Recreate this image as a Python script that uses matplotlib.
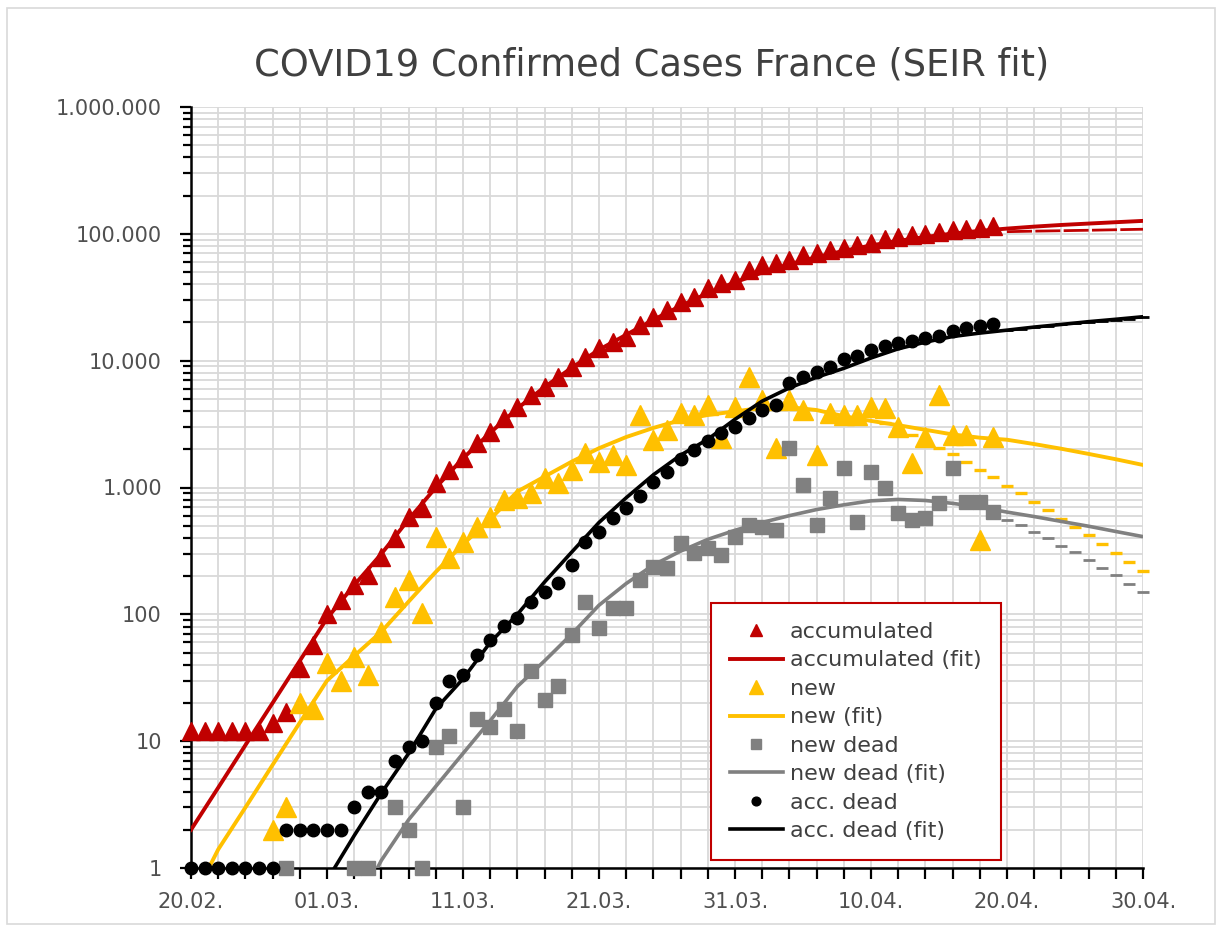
import numpy as np
import matplotlib
matplotlib.use("Agg")
from matplotlib import pyplot as plt
from matplotlib import ticker
from matplotlib.patches import Rectangle

# days counted from 20.02.2020
start = np.datetime64("2020-02-20")

# observed values, one per day from 20.02. to 19.04.
accumulated = [12, 12, 12, 12, 12, 12, 14, 17, 38, 57,
               100, 130, 170, 204, 285, 400, 585, 690, 1085, 1370,
               1700, 2240, 2740, 3530, 4300, 5370, 6200, 7400, 8900, 10700,
               12600, 14000, 15400, 19200, 22100, 25100, 29000, 31700, 37400, 40900,
               43300, 51900, 56400, 58700, 62000, 67600, 70500, 74200, 77800, 81300,
               84700, 91600, 94500, 97500, 99300, 103600, 106800, 109800, 111900, 114800]
new = [np.nan] * 6 + [2, 3, 20, 18,
       41, 30, 46, 33, 73, 138, 187, 102, 409, 278,
       374, 491, 589, 795, 826, 906, 1182, 1079, 1375, 1862,
       1600, 1804, 1504, 3730, 2370, 2840, 3845, 3730, 4480, 2445,
       4340, 7480, 4900, 2040, 4900, 4080, 1800, 3845, 3730, 3730,
       4340, 4200, 3020, 1552, 2513, 5360, 2594, 2594, 386, 2513]
new_dead = [np.nan] * 7 + [1, np.nan, np.nan,
            np.nan, np.nan, 1, 1, np.nan, 3, 2, 1, 9, 11,
            3, 15, 13, 18, 12, 36, 21, 27, 69, 126,
            78, 112, 112, 187, 237, 231, 363, 303, 331, 294,
            409, 506, 491, 462, 2037, 1047, 506, 822, 1417, 537,
            1333, 986, 626, 554, 572, 750, 1417, 773, 773, 645]
acc_dead = [1, 1, 1, 1, 1, 1, 1, 2, 2, 2,
            2, 2, 3, 4, 4, 7, 9, 10, 20, 30,
            33, 48, 63, 81, 93, 126, 151, 176, 245, 374,
            449, 572, 686, 860, 1111, 1333, 1670, 1977, 2330, 2672,
            3020, 3515, 4080, 4475, 6630, 7480, 8100, 8960, 10300, 10900,
            12140, 13120, 13700, 14380, 15000, 15740, 17140, 18200, 18760, 19450]

# SEIR fit, read every second day from 20.02. to 30.04.
acc_fit = [2, 4.3, 9.3, 20, 43, 93, 170, 300, 560, 1000,
           1700, 2700, 4200, 6200, 8800, 12200, 16000, 21000, 27000, 34000,
           41500, 49500, 57500, 65500, 73500, 81000, 88000, 94500, 100500, 105500,
           110000, 114000, 117500, 120500, 123500, 126500]
new_fit = [0.53, 1.4, 3.0, 6.5, 14, 30, 47, 73, 126, 216,
           357, 562, 930, 1220, 1600, 2040, 2500, 2950, 3400, 3730,
           3980, 4250, 4300, 4080, 3650, 3350, 3100, 2850, 2620, 2470,
           2380, 2200, 2020, 1840, 1670, 1506]
new_dead_fit = [np.nan] * 6 + [0.45, 1.15, 2.4, 4.4,
                8.0, 14.5, 27, 43, 70, 118, 175, 245, 315, 390,
                460, 530, 600, 670, 730, 785, 805, 790, 750, 700,
                640, 590, 540, 495, 450, 410]
acc_dead_fit = [np.nan] * 5 + [0.8, 1.8, 3.9, 8.0, 18,
                31, 60, 100, 180, 310, 530, 830, 1260, 1800, 2400,
                3450, 4800, 6100, 7400, 8700, 10500, 12400, 14000, 15500, 16500,
                17400, 18400, 19300, 20300, 21200, 22200]

# forecast dashes (not in the legend)
acc_fc = [104000, 104500, 105000, 105400, 105800, 106300, 106700, 107200, 107700, 108200, 108700]
new_fc = [3245, 2900, 2594, 2300, 2037, 1827, 1581, 1375, 1203, 1033,
          900, 769, 665, 565, 491, 420, 359, 307, 259, 221]
new_dead_fc = [554, 506, 448, 398, 348, 308, 268, 233, 203, 173, 151]
acc_dead_fc = [17300, 17800, 18300, 18800, 19300, 19800, 20300, 20700, 21100, 21500, 21900]

obs_days = start + np.arange(len(accumulated))
fit_days = start + np.arange(0, 71, 2)
acc_fc_days = start + np.arange(60, 71)
new_fc_days = start + np.arange(51, 71)

RED = "#C00000"
YELLOW = "#FFC000"
GREY = "#808080"

fig = plt.figure(figsize=(12.23, 9.26), dpi=100)
fig.patches.append(Rectangle((7 / 1223, 2 / 926), 1208 / 1223, 916 / 926,
                             transform=fig.transFigure, fill=False,
                             edgecolor="#D9D9D9", lw=1.2))
ax = fig.add_axes([191 / 1223, 1 - 868 / 926, 952 / 1223, 761 / 926])

ax.plot(obs_days, accumulated, "^", color=RED, ms=13, clip_on=False, label="accumulated", zorder=3)
ax.plot(fit_days, acc_fit, "-", color=RED, lw=2.8, label="accumulated (fit)", zorder=3)
ax.plot(acc_fc_days, acc_fc, color=RED, lw=2, ls=(0, (9, 1.2)), clip_on=False, zorder=3)

ax.plot(obs_days, new, "^", color=YELLOW, ms=14, clip_on=False, label="new", zorder=4)
ax.plot(fit_days, new_fit, "-", color=YELLOW, lw=2.8, label="new (fit)", zorder=4)
ax.plot(new_fc_days, new_fc, "_", color=YELLOW, ms=8, mew=2.4, clip_on=False, zorder=4)

ax.plot(obs_days, new_dead, "s", color=GREY, ms=9.5, clip_on=False, label="new dead", zorder=5)
ax.plot(fit_days, new_dead_fit, "-", color=GREY, lw=2.6, label="new dead (fit)", zorder=5)
ax.plot(acc_fc_days, new_dead_fc, "_", color=GREY, ms=8, mew=2, clip_on=False, zorder=5)

ax.plot(obs_days, acc_dead, "o", color="black", ms=9, clip_on=False, label="acc. dead", zorder=6)
ax.plot(fit_days, acc_dead_fit, "-", color="black", lw=2.6, label="acc. dead (fit)", zorder=6)
ax.plot(acc_fc_days, acc_dead_fc, "_", color="black", ms=8, mew=2, clip_on=False, zorder=6)

ax.set_yscale("log")
ax.set_ylim(1, 1e6)
ax.set_xlim(start, start + np.timedelta64(70, "D"))

ax.set_xticks(start + np.arange(0, 71, 10))
ax.set_xticks(start + np.arange(0, 71, 2), minor=True)
ax.set_xticklabels([str(d.astype(object).strftime("%d.%m.")) for d in start + np.arange(0, 71, 10)])
ax.yaxis.set_major_locator(ticker.LogLocator(base=10, numticks=10))
ax.yaxis.set_minor_locator(ticker.LogLocator(base=10, subs=np.arange(2, 10), numticks=100))
ax.yaxis.set_major_formatter(ticker.FuncFormatter(lambda v, p: f"{int(round(v)):,}".replace(",", ".")))
ax.yaxis.set_minor_formatter(ticker.NullFormatter())

ax.grid(True, which="both", color="#D9D9D9", lw=1.3)
ax.set_axisbelow(True)
for s in ["top", "right"]:
    ax.spines[s].set_visible(False)
for s in ["left", "bottom"]:
    ax.spines[s].set_linewidth(1.8)
ax.tick_params(axis="both", which="both", direction="out", width=1.6, colors="black",
               labelcolor="#505050", labelsize=15)
ax.tick_params(axis="y", which="major", length=8, pad=13)
ax.tick_params(axis="y", which="minor", length=6)
ax.tick_params(axis="x", which="both", length=8, pad=9)

leg = ax.legend(loc="lower left", bbox_to_anchor=(0.546, 0.0105, 0.305, 0.344),
                mode="expand", borderaxespad=0, fontsize=16, labelcolor="#404040",
                markerscale=0.7, handlelength=2.4, labelspacing=0.38, handletextpad=0.3,
                borderpad=0.85, fancybox=False, framealpha=1)
leg.get_frame().set_edgecolor(RED)
leg.get_frame().set_linewidth(1.5)
leg.set_zorder(10)

fig.text(652 / 1223, 1 - 65 / 926, "COVID19 Confirmed Cases France (SEIR fit)",
         ha="center", va="center", fontsize=26.5, color="#404040")

fig.savefig("out.png", dpi=100)
